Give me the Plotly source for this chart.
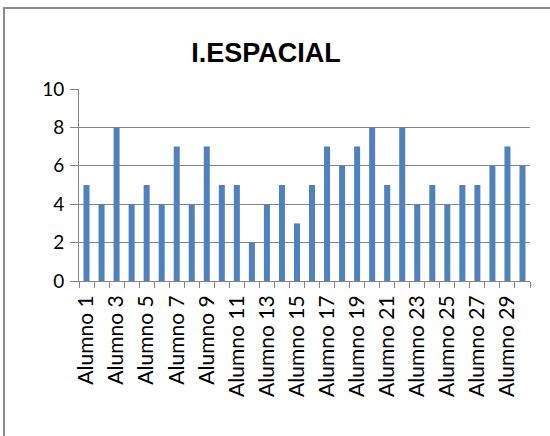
import plotly.graph_objects as go

alumnos = ["Alumno " + str(i) for i in range(1, 31)]
valores = [5, 4, 8, 4, 5, 4, 7, 4, 7, 5, 5, 2, 4, 5, 3, 5, 7, 6, 7, 8, 5, 8, 4, 5, 4, 5, 5, 6, 7, 6]
yticks = [0, 2, 4, 6, 8, 10]

pos = list(range(1, len(alumnos) + 1))

W, H = 550, 436
L, R, T, B = 79, 20, 89, 155

fig = go.Figure()
fig.add_trace(go.Bar(x=pos, y=valores, marker=dict(color="#4F81BD", line=dict(width=0)),
                     hovertext=alumnos))

def px_x(p):
    return (p - L) / (W - L - R)

def px_y(p):
    return (H - B - p) / (H - T - B)

fig.update_layout(
    width=W, height=H,
    margin=dict(l=L, r=R, t=T, b=B, autoexpand=False),
    paper_bgcolor="white", plot_bgcolor="white",
    showlegend=False,
    bargap=0.6,
    title=dict(text="<b>I.ESPACIAL</b>", xref="container", x=266 / W, xanchor="center",
               yref="container", y=1 - 53 / H, yanchor="middle",
               font=dict(family="Liberation Sans, Arial", size=27, color="black")),
    font=dict(family="Lato, Calibri, sans-serif", color="black"),
)

fig.update_xaxes(
    range=[0.5, len(alumnos) + 0.5], automargin=False,
    tickmode="array", tickvals=pos[::2], ticktext=alumnos[::2],
    tickangle=-90, tickfont=dict(size=21), ticklabelstandoff=5,
    ticks="", showgrid=False,
    showline=True, linecolor="#868686", linewidth=1,
    minor=dict(tickmode="array", tickvals=[p - 0.5 for p in pos] + [len(pos) + 0.5],
               ticks="outside", ticklen=6, tickcolor="#868686", showgrid=False),
)
fig.update_yaxes(
    range=[0, 10], tickvals=yticks, tickfont=dict(size=19), automargin=False,
    ticklabelstandoff=2,
    showgrid=True, gridcolor="#868686", gridwidth=1,
    showline=True, linecolor="#868686", linewidth=1,
    ticks="outside", ticklen=8, tickcolor="#868686",
    zeroline=False,
)

# chart frame
fig.add_shape(type="rect", xref="paper", yref="paper",
              x0=px_x(4), x1=px_x(W + 10), y0=px_y(H + 10), y1=px_y(8),
              line=dict(color="#8C8C8C", width=2), layer="below")

# page has a default body margin, drop it so the figure sits at 0,0
fig.write_html("out.html", config={"displayModeBar": False},
               post_script="document.body.style.margin='0';")
